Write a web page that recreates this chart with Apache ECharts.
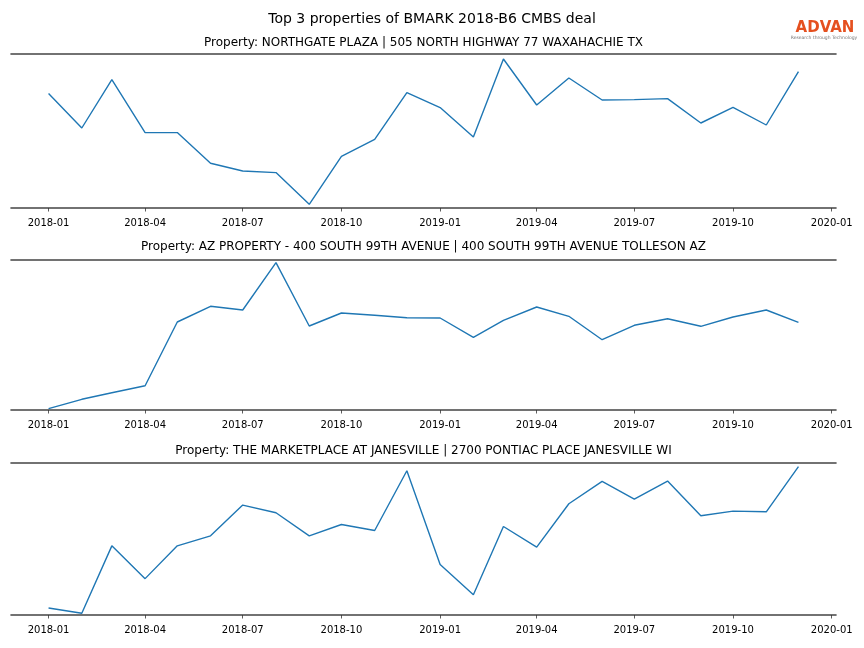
<!DOCTYPE html>
<html>
<head>
<meta charset="utf-8">
<script src="https://cdn.jsdelivr.net/npm/echarts@6/dist/echarts.min.js"></script>
<style>
html,body{margin:0;padding:0;background:#fff;}
#chart{width:864px;height:648px;}
</style>
</head>
<body>
<div id="chart"></div>
<script>
// ---------- data ----------
var months = ['2018-01','2018-02','2018-03','2018-04','2018-05','2018-06','2018-07','2018-08','2018-09','2018-10','2018-11','2018-12',
              '2019-01','2019-02','2019-03','2019-04','2019-05','2019-06','2019-07','2019-08','2019-09','2019-10','2019-11','2019-12'];
var tickLabels = ['2018-01','2018-04','2018-07','2018-10','2019-01','2019-04','2019-07','2019-10','2020-01'];

var mainTitle = 'Top 3 properties of BMARK 2018-B6 CMBS deal';
var panelTitles = [
  'Property: NORTHGATE PLAZA | 505 NORTH HIGHWAY 77 WAXAHACHIE TX',
  'Property: AZ PROPERTY - 400 SOUTH 99TH AVENUE | 400 SOUTH 99TH AVENUE TOLLESON AZ',
  'Property: THE MARKETPLACE AT JANESVILLE | 2700 PONTIAC PLACE JANESVILLE WI'
];
var northgate = [1144, 800, 1284, 754, 754, 447, 370, 354, 37, 517, 687, 1154,
                 1004, 710, 1490, 1030, 1300, 1080, 1084, 1094, 850, 1007, 830, 1364];
var azProperty = [13, 107, 173, 243, 880, 1037, 1000, 1473, 840, 970, 947, 923,
                  920, 727, 897, 1030, 937, 703, 847, 913, 837, 930, 1000, 877];
var marketplace = [70, 17, 690, 363, 690, 790, 1097, 1020, 790, 903, 843, 1440,
                   503, 203, 883, 677, 1110, 1333, 1157, 1337, 990, 1037, 1030, 1480];
var yMax = [1540, 1500, 1517];

// ---------- build ----------
function ts(s){ var p = s.split('-'); return Date.UTC(+p[0], +p[1]-1, 1); }
function fmt(v){ var d = new Date(v); var m = d.getUTCMonth()+1; return d.getUTCFullYear() + '-' + (m<10?'0':'') + m; }
var DAY = 86400000;
var xMin = ts(months[0]) - 35*DAY;
var xMax = ts(months[months.length-1]) + 35*DAY;
var tickVals = tickLabels.map(ts);

var seriesVals = [northgate, azProperty, marketplace];
var grids = [
  {left: 11, right: 28, top: 54, height: 154},
  {left: 11, right: 28, top: 260, height: 150},
  {left: 11, right: 28, top: 463, height: 152}
];
var titleY = [42.5, 246.5, 450.5];
var spine = {show: true, lineStyle: {color: '#444444', width: 1.6}};
var font = 'DejaVu Sans';

var xAxes = [], yAxes = [], series = [], graphics = [];
grids.forEach(function(g, i){
  xAxes.push({
    type: 'value', gridIndex: i, min: xMin, max: xMax, position: 'bottom', scale: true,
    axisLine: spine,
    axisTick: {show: true, customValues: tickVals, length: 3.5, lineStyle: {color: '#333', width: 0.8}},
    axisLabel: {show: true, customValues: tickVals, formatter: function(v){ return fmt(v); },
                color: '#000', fontSize: 10, fontFamily: font, margin: 10, hideOverlap: false},
    splitLine: {show: false}
  });
  xAxes.push({
    type: 'value', gridIndex: i, min: 0, max: 1, position: 'top',
    axisLine: spine, axisTick: {show: false}, axisLabel: {show: false}, splitLine: {show: false}
  });
  yAxes.push({
    type: 'value', gridIndex: i, min: 0, max: yMax[i], show: false, splitLine: {show: false}
  });
  series.push({
    type: 'line', xAxisIndex: i*2, yAxisIndex: i, showSymbol: false, symbol: 'none',
    lineStyle: {color: '#1f77b4', width: 1.4}, animation: false,
    data: months.map(function(m, k){ return [ts(m), seriesVals[i][k]]; })
  });
  graphics.push({
    type: 'text',
    style: {x: 423.5, y: titleY[i], text: panelTitles[i], textAlign: 'center', textVerticalAlign: 'middle',
            fill: '#000', font: '12px "DejaVu Sans"'}
  });
});
graphics.push({
  type: 'text',
  style: {x: 432, y: 19.5, text: mainTitle, textAlign: 'center', textVerticalAlign: 'middle',
          fill: '#000', font: '14px "DejaVu Sans"'}
});
graphics.push({
  type: 'text',
  style: {x: 825, y: 28, text: 'ADVAN', textAlign: 'center', textVerticalAlign: 'middle',
          fill: '#e5501f', font: 'bold 15px "DejaVu Sans"'}
});
graphics.push({
  type: 'text',
  style: {x: 824, y: 38, text: 'Research through Technology', textAlign: 'center', textVerticalAlign: 'middle',
          fill: '#777777', font: '4.5px "DejaVu Sans"'}
});

var chart = echarts.init(document.getElementById('chart'), null, {renderer: 'canvas'});
chart.setOption({
  animation: false,
  backgroundColor: '#ffffff',
  grid: grids,
  xAxis: xAxes,
  yAxis: yAxes,
  series: series,
  graphic: graphics
});
</script>
</body>
</html>
